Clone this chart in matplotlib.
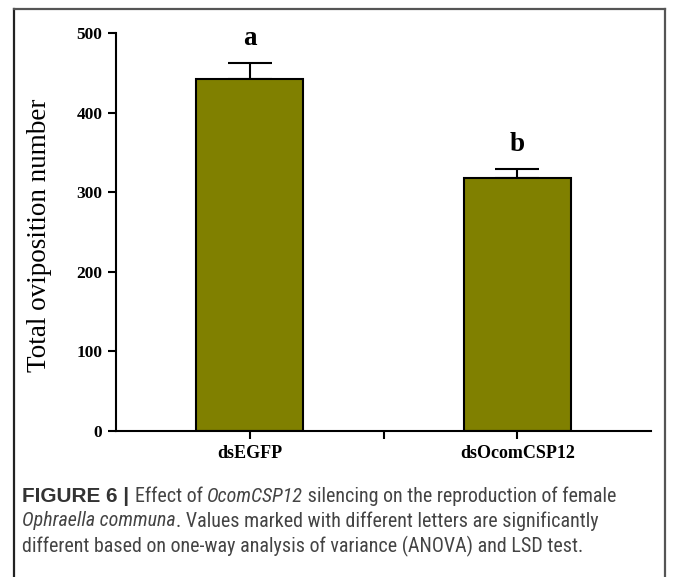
import matplotlib
matplotlib.use("Agg")
import matplotlib.pyplot as plt
from matplotlib import font_manager
from matplotlib.lines import Line2D

# ---- data ----
categories = ["dsEGFP", "dsOcomCSP12"]
values = [442, 318]
errors_upper = [20, 11]
letters = ["a", "b"]
y_ticks = [0, 100, 200, 300, 400, 500]
y_label = "Total oviposition number"

W, H = 674, 577
fig = plt.figure(figsize=(W / 100, H / 100), dpi=100)

def fx(px):
    return px / W

def fy(py):
    return 1 - py / H

# outer frame
fig.add_artist(Line2D([fx(14), fx(14)], [fy(8.7), -0.1], color="#222222", lw=1.6))
fig.add_artist(Line2D([fx(14), fx(665)], [fy(8.7), fy(8.7)], color="#555555", lw=1.6))
fig.add_artist(Line2D([fx(665), fx(665)], [fy(8.7), -0.1], color="#555555", lw=1.6))

ax = fig.add_axes([fx(116), fy(431), fx(651) - fx(116), fy(33) - fy(431)])
xpos = [0.5, 1.5]
ax.bar(xpos, values, width=0.4, color="#808000", edgecolor="black", linewidth=1.5, zorder=2)
ax.errorbar(xpos, values, yerr=[[0, 0], errors_upper], fmt="none", ecolor="black",
            elinewidth=1.5, capsize=16, capthick=1.5, zorder=1)

ax.set_xlim(0, 2)
ax.set_ylim(0, 500)
for s in ["top", "right"]:
    ax.spines[s].set_visible(False)
for s in ["left", "bottom"]:
    ax.spines[s].set_linewidth(1.5)

ax.set_yticks(y_ticks)
ax.set_yticklabels([str(t) for t in y_ticks], fontfamily="Liberation Serif",
                   fontweight="bold", fontsize=12.5)
ax.set_xticks([0.5, 1.0, 1.5])
ax.set_xticklabels([categories[0], "", categories[1]], fontfamily="Liberation Serif",
                   fontweight="bold", fontsize=13)
ax.tick_params(axis="both", direction="out", length=5.8, width=1.5, pad=4)

for x, v, e, l in zip(xpos, values, errors_upper, letters):
    ax.text(x, v + e + 23, l, ha="center", va="baseline", fontfamily="Liberation Serif",
            fontweight="bold", fontsize=19.5)

fig.text(fx(40), fy(235), y_label, rotation=90, ha="center", va="center",
         fontfamily="Liberation Serif", fontsize=19.5)

# caption
names = {f.name for f in font_manager.fontManager.ttflist}
cap_font = "Liberation Sans"
for cand in ["Liberation Sans Narrow", "Roboto Condensed", "Open Sans Condensed", "Noto Sans Condensed"]:
    if cand in names:
        cap_font = cand
        break
bold_font = "Liberation Sans"
renderer = fig.canvas.get_renderer()

def seg_width(txt, fam, wgt, sty, size):
    t = fig.text(0, 0, txt, fontfamily=fam, fontweight=wgt, fontstyle=sty, fontsize=size)
    w = t.get_window_extent(renderer=renderer).width
    t.remove()
    return w

caption_lines = [
    [("FIGURE 6 | ", "B", "bold", "normal", "#333333"),
     ("Effect of ", "R", "normal", "normal", "#444444"),
     ("OcomCSP12", "R", "normal", "italic", "#444444"),
     (" silencing on the reproduction of female", "R", "normal", "normal", "#444444")],
    [("Ophraella communa", "R", "normal", "italic", "#444444"),
     (". Values marked with different letters are significantly", "R", "normal", "normal", "#444444")],
    [("different based on one-way analysis of variance (ANOVA) and LSD test.", "R", "normal", "normal", "#444444")],
]

# sizes chosen so text spans match the reference widths
w2 = sum(seg_width(s[0], cap_font, s[2], s[3], 14) for s in caption_lines[1])
body_size = 14 * 580 / w2
bold_size = 14 * 96 / seg_width("FIGURE 6", bold_font, "bold", "normal", 14)

line_y = [496, 521, 546]
for segs, ly in zip(caption_lines, line_y):
    x = 22
    for txt, kind, wgt, sty, col in segs:
        fam = bold_font if kind == "B" else cap_font
        size = bold_size if kind == "B" else body_size
        t = fig.text(fx(x), fy(ly), txt, ha="left", va="center", fontfamily=fam,
                     fontweight=wgt, fontstyle=sty, color=col, fontsize=size)
        bb = t.get_window_extent(renderer=renderer)
        x += bb.width

fig.savefig("out.png", dpi=100)
